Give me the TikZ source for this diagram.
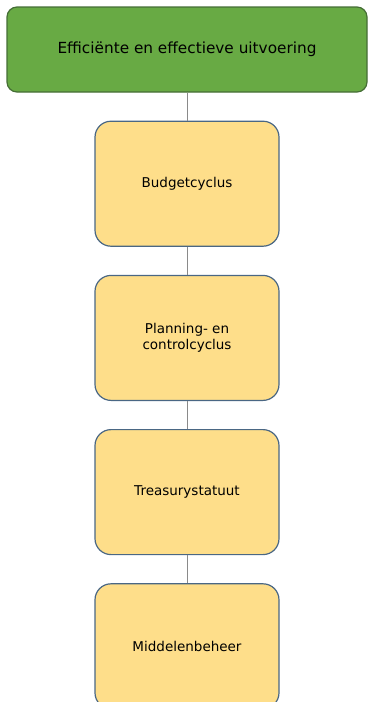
\documentclass[tikz,border=0pt]{standalone}
\usepackage{fontspec}
\setmainfont{DejaVu Sans}
\usepackage{xcolor}
\usetikzlibrary{positioning}
\definecolor{goalgreen}{HTML}{68AA44}
\definecolor{goalline}{HTML}{456E35}
\definecolor{stepyellow}{HTML}{FEDE8A}
\definecolor{stepline}{HTML}{4A6784}
\definecolor{linkgray}{HTML}{8A8A8A}
\tikzset{
    goal/.style={
        rectangle,
        draw=goalline,
        line width=1.2pt,
        rounded corners=10pt,
        minimum width=360pt,
        minimum height=85pt,
        fill=goalgreen,
        font=\fontsize{15.3}{18}\selectfont
    },
    stepbox/.style={
        rectangle,
        draw=stepline,
        line width=1.2pt,
        rounded corners=16pt,
        minimum width=184pt,
        minimum height=125pt,
        fill=stepyellow,
        align=center,
        font=\fontsize{13.5}{16.5}\selectfont
    },
    link/.style={
        draw=linkgray,
        line width=0.8pt
    }
}
\begin{document}
\begin{tikzpicture}[x=1pt, y=-1pt, node distance=28pt]
\useasboundingbox (0,0) rectangle (368,702);

% Goal
\node[goal] (goal) at (187,49.5) {Efficiënte en effectieve uitvoering};

% Steps
\node[stepbox, below=28pt of goal] (budget) {Budgetcyclus};
\node[stepbox, below=of budget] (pc) {Planning- en\\controlcyclus};
\node[stepbox, below=of pc] (treasury) {Treasurystatuut};
\node[stepbox, below=of treasury] (means) {Middelenbeheer};

\draw[link] (goal) -- (budget);
\draw[link] (budget) -- (pc);
\draw[link] (pc) -- (treasury);
\draw[link] (treasury) -- (means);

\end{tikzpicture}
\end{document}
